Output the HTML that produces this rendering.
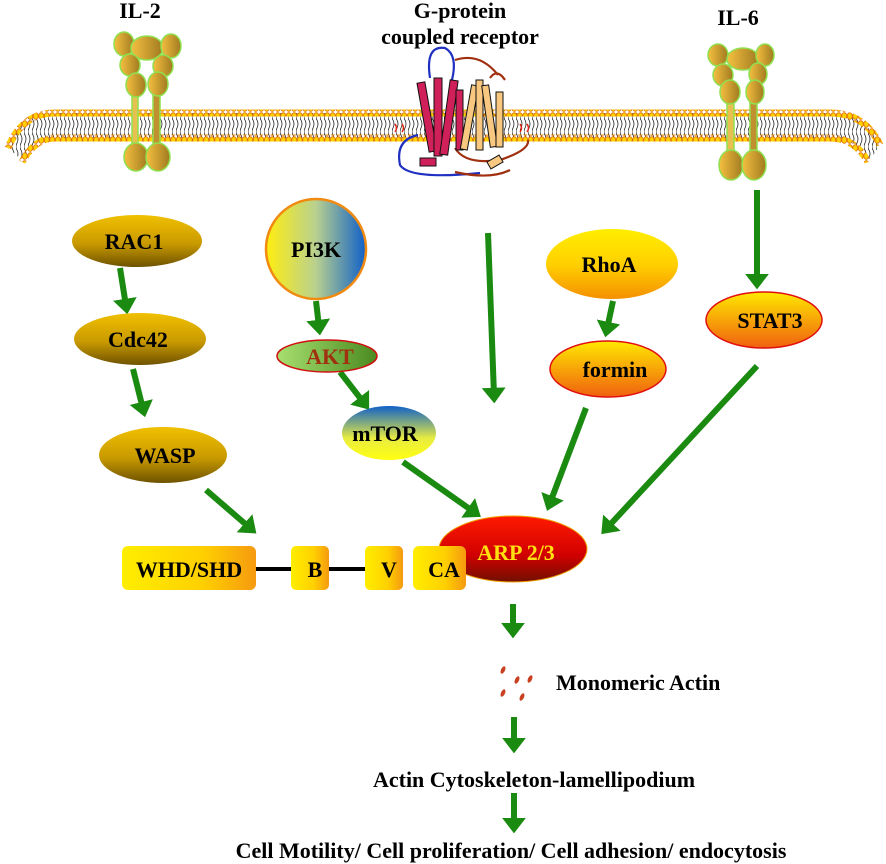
<!DOCTYPE html>
<html><head><meta charset="utf-8"><style>
html,body{margin:0;padding:0;background:#fff;}
svg{display:block;font-family:"Liberation Serif",serif;font-weight:bold;}
</style></head><body>
<svg width="886" height="864" viewBox="0 0 886 864" xmlns="http://www.w3.org/2000/svg">
<defs>
<linearGradient id="gold" x1="0" y1="0" x2="0" y2="1"><stop offset="0" stop-color="#f0c000"/><stop offset="0.55" stop-color="#c99a00"/><stop offset="1" stop-color="#6e5200"/></linearGradient>
<linearGradient id="pi3k" x1="0" y1="0" x2="1" y2="0"><stop offset="0" stop-color="#ffee10"/><stop offset="0.5" stop-color="#b8d090"/><stop offset="1" stop-color="#1060c8"/></linearGradient>
<linearGradient id="akt" x1="0" y1="0" x2="1" y2="0"><stop offset="0" stop-color="#a8e070"/><stop offset="1" stop-color="#4a8a20"/></linearGradient>
<linearGradient id="mtor" x1="0" y1="0" x2="0" y2="1"><stop offset="0" stop-color="#1060c8"/><stop offset="0.6" stop-color="#e8ec40"/><stop offset="1" stop-color="#ffff10"/></linearGradient>
<linearGradient id="yo" x1="0" y1="0" x2="0" y2="1"><stop offset="0" stop-color="#ffee00"/><stop offset="0.5" stop-color="#ffd000"/><stop offset="1" stop-color="#f49000"/></linearGradient>
<linearGradient id="stat" x1="0" y1="0" x2="0" y2="1"><stop offset="0" stop-color="#ffe800"/><stop offset="1" stop-color="#f06010"/></linearGradient>
<linearGradient id="arp" x1="0" y1="0" x2="0" y2="1"><stop offset="0" stop-color="#ff1a00"/><stop offset="0.6" stop-color="#d00000"/><stop offset="1" stop-color="#701000"/></linearGradient>
<linearGradient id="box" x1="0" y1="0" x2="1" y2="0"><stop offset="0" stop-color="#ffee00"/><stop offset="0.6" stop-color="#ffd000"/><stop offset="1" stop-color="#f59a10"/></linearGradient>
<linearGradient id="rec" x1="0" y1="0" x2="1" y2="0"><stop offset="0" stop-color="#f5c040"/><stop offset="1" stop-color="#a07a20"/></linearGradient>
<pattern id="tails" width="4" height="30" patternUnits="userSpaceOnUse"><path d="M1 0 Q3 4 1 8 Q-1 12 1 15 M1 15 Q3 19 1 23 Q-1 27 1 30" stroke="#222" stroke-width="0.8" fill="none"/></pattern>
<pattern id="heads" width="5.5" height="8" patternUnits="userSpaceOnUse"><ellipse cx="2.75" cy="4" rx="2.5" ry="3.3" fill="#ffd000" stroke="#e07000" stroke-width="0.8"/></pattern>
<marker id="ah" markerWidth="4" markerHeight="4" refX="1.2" refY="2" orient="auto" markerUnits="strokeWidth"><path d="M0,0 L2.6,2 L0,4 z" fill="#1a8a10"/></marker>
</defs>

<!-- titles -->
<text x="140" y="18" font-size="22" text-anchor="middle">IL-2</text>
<text x="460" y="18" font-size="22" text-anchor="middle">G-protein</text>
<text x="460" y="44" font-size="22" text-anchor="middle">coupled receptor</text>
<text x="738" y="25" font-size="22" text-anchor="middle">IL-6</text>

<!-- membrane -->
<path d="M8 148 Q22 113 55 113 L830 113 Q865 113 880 145 L870 160 Q855 138 830 138 L55 138 Q35 138 22 160 Z" fill="url(#tails)"/>
<path d="M8 148 Q22 113 55 113 L830 113 Q865 113 880 145" stroke="url(#heads)" stroke-width="7" fill="none"/>
<path d="M22 162 Q35 138 55 138 L830 138 Q855 138 868 162" stroke="url(#heads)" stroke-width="7" fill="none"/>

<!-- IL-2 receptor -->
<g stroke="#8fe050" stroke-width="1.5" fill="url(#rec)">
<rect x="132" y="90" width="6" height="55" fill="#e8c050"/><rect x="153" y="90" width="7" height="55" fill="#c09030"/>
<ellipse cx="124" cy="44" rx="10" ry="12"/><ellipse cx="147" cy="48" rx="16" ry="12"/><ellipse cx="171" cy="46" rx="10" ry="12"/>
<ellipse cx="130" cy="65" rx="10" ry="11"/><ellipse cx="163" cy="66" rx="10" ry="11"/>
<ellipse cx="136" cy="85" rx="10" ry="12"/><ellipse cx="158" cy="84" rx="10" ry="12"/>
<ellipse cx="136" cy="157" rx="12" ry="14"/><ellipse cx="158" cy="157" rx="12" ry="14"/>
</g>
<!-- IL-6 receptor -->
<g stroke="#8fe050" stroke-width="1.5" fill="url(#rec)">
<rect x="727" y="95" width="7" height="60" fill="#e8c050"/><rect x="750" y="95" width="7" height="60" fill="#c09030"/>
<ellipse cx="718" cy="55" rx="10" ry="11"/><ellipse cx="743" cy="59" rx="16" ry="11"/><ellipse cx="765" cy="55" rx="9" ry="11"/>
<ellipse cx="723" cy="75" rx="10" ry="11"/><ellipse cx="758" cy="74" rx="9" ry="11"/>
<ellipse cx="730" cy="92" rx="10" ry="12"/><ellipse cx="755" cy="92" rx="9" ry="12"/>
<ellipse cx="731" cy="165" rx="12" ry="15"/><ellipse cx="754" cy="165" rx="12" ry="15"/>
</g>
<!-- GPCR -->
<g fill="none" stroke-width="2.2">
<path d="M430 78 Q425 45 445 48 Q458 55 452 80" stroke="#2030c0"/>
<path d="M418 135 Q395 140 400 165 Q410 180 480 173" stroke="#2030c0"/>
<path d="M455 60 Q480 52 498 75 M490 78 Q497 68 505 80" stroke="#a03010"/>
<path d="M455 148 Q465 165 500 160 Q530 150 528 140 M455 172 Q490 180 510 170" stroke="#a03010"/>
<path d="M395 132 q3 -4 0 -8 M402 132 q3 -4 0 -8 M520 132 q3 -4 0 -8 M527 132 q3 -4 0 -8" stroke="#e02010" stroke-width="1.5"/>
</g>
<g stroke="#111" stroke-width="1">
<g fill="#d0205a"><rect x="423" y="82" width="8" height="70" transform="rotate(-10 427 117)"/><rect x="434" y="78" width="8" height="78"/><rect x="445" y="80" width="8" height="75" transform="rotate(8 449 117)"/><rect x="456" y="90" width="7" height="60"/><rect x="420" y="158" width="16" height="8"/></g>
<g fill="#f8c880"><rect x="466" y="85" width="7" height="65" transform="rotate(10 470 117)"/><rect x="476" y="80" width="7" height="70"/><rect x="486" y="85" width="7" height="62" transform="rotate(-8 490 116)"/><rect x="496" y="92" width="7" height="55"/><rect x="488" y="158" width="14" height="8" transform="rotate(-30 495 162)"/></g>
</g>

<!-- arrows -->
<g stroke="#1a8a10" stroke-width="6" marker-end="url(#ah)" fill="none">
<line x1="120" y1="268" x2="126" y2="306"/>
<line x1="133" y1="369" x2="143" y2="409"/>
<line x1="206" y1="490" x2="250" y2="528"/>
<line x1="316" y1="301" x2="319" y2="327"/>
<line x1="340" y1="372" x2="364" y2="403"/>
<line x1="403" y1="462" x2="474" y2="512"/>
<line x1="488" y1="233" x2="494" y2="395"/>
<line x1="613" y1="301" x2="607" y2="329"/>
<line x1="586" y1="408" x2="550" y2="503"/>
<line x1="757" y1="190" x2="757" y2="281"/>
<line x1="757" y1="366" x2="607" y2="528"/>
<line x1="513" y1="604" x2="513" y2="630"/>
<line x1="514" y1="717" x2="514" y2="745"/>
<line x1="514" y1="793" x2="514" y2="825"/>
</g>

<!-- nodes -->
<ellipse cx="137" cy="241" rx="65" ry="26" fill="url(#gold)"/>
<text x="134" y="249" font-size="22" text-anchor="middle">RAC1</text>
<ellipse cx="140" cy="339" rx="66" ry="26" fill="url(#gold)"/>
<text x="138" y="347" font-size="22" text-anchor="middle">Cdc42</text>
<ellipse cx="163" cy="455" rx="64" ry="28" fill="url(#gold)"/>
<text x="165" y="463" font-size="22" text-anchor="middle">WASP</text>

<circle cx="316" cy="249" r="50" fill="url(#pi3k)" stroke="#f08a10" stroke-width="2.5"/>
<text x="316" y="257" font-size="22" text-anchor="middle">PI3K</text>
<ellipse cx="327" cy="356" rx="50" ry="16" fill="url(#akt)" stroke="#d01010" stroke-width="1.5"/>
<text x="330" y="364" font-size="22" text-anchor="middle" fill="#a03010">AKT</text>
<ellipse cx="389" cy="433" rx="47" ry="27" fill="url(#mtor)"/>
<text x="385" y="441" font-size="22" text-anchor="middle">mTOR</text>

<ellipse cx="612" cy="264" rx="66" ry="35" fill="url(#yo)"/>
<text x="609" y="272" font-size="22" text-anchor="middle">RhoA</text>
<ellipse cx="608" cy="369" rx="58" ry="28" fill="url(#stat)" stroke="#e01010" stroke-width="1.5"/>
<text x="615" y="377" font-size="22" text-anchor="middle">formin</text>
<ellipse cx="764" cy="320" rx="58" ry="28" fill="url(#stat)" stroke="#e01010" stroke-width="1.5"/>
<text x="770" y="328" font-size="22" text-anchor="middle">STAT3</text>

<!-- WASP domains -->
<line x1="255" y1="569" x2="292" y2="569" stroke="#000" stroke-width="4"/>
<line x1="328" y1="569" x2="366" y2="569" stroke="#000" stroke-width="4"/>
<rect x="122" y="546" width="134" height="44" rx="6" fill="url(#box)"/>
<text x="189" y="577" font-size="22" text-anchor="middle">WHD/SHD</text>
<rect x="291" y="546" width="38" height="44" rx="5" fill="url(#box)"/>
<text x="315" y="577" font-size="22" text-anchor="middle">B</text>
<rect x="365" y="546" width="38" height="44" rx="5" fill="url(#box)"/>
<text x="389" y="577" font-size="22" text-anchor="middle">V</text>
<ellipse cx="513" cy="549" rx="74" ry="33" fill="url(#arp)" stroke="#f0a000" stroke-width="1"/>
<rect x="413" y="546" width="53" height="44" rx="6" fill="url(#box)"/>
<text x="444" y="577" font-size="22" text-anchor="middle">CA</text>
<text x="516" y="560" font-size="22" text-anchor="middle" fill="#ffe010">ARP 2/3</text>

<!-- monomeric actin -->
<g fill="#c84020">
<ellipse cx="503" cy="670" rx="2" ry="4" transform="rotate(25 503 670)"/>
<ellipse cx="517" cy="680" rx="2" ry="4" transform="rotate(25 517 680)"/>
<ellipse cx="530" cy="679" rx="2" ry="4" transform="rotate(25 530 679)"/>
<ellipse cx="503" cy="693" rx="2" ry="4" transform="rotate(25 503 693)"/>
<ellipse cx="522" cy="697" rx="2" ry="4" transform="rotate(25 522 697)"/>
</g>
<text x="556" y="690" font-size="22">Monomeric Actin</text>
<text x="534" y="787" font-size="22" text-anchor="middle">Actin Cytoskeleton-lamellipodium</text>
<text x="511" y="858" font-size="22" text-anchor="middle">Cell Motility/ Cell proliferation/ Cell adhesion/ endocytosis</text>
</svg>
</body></html>
